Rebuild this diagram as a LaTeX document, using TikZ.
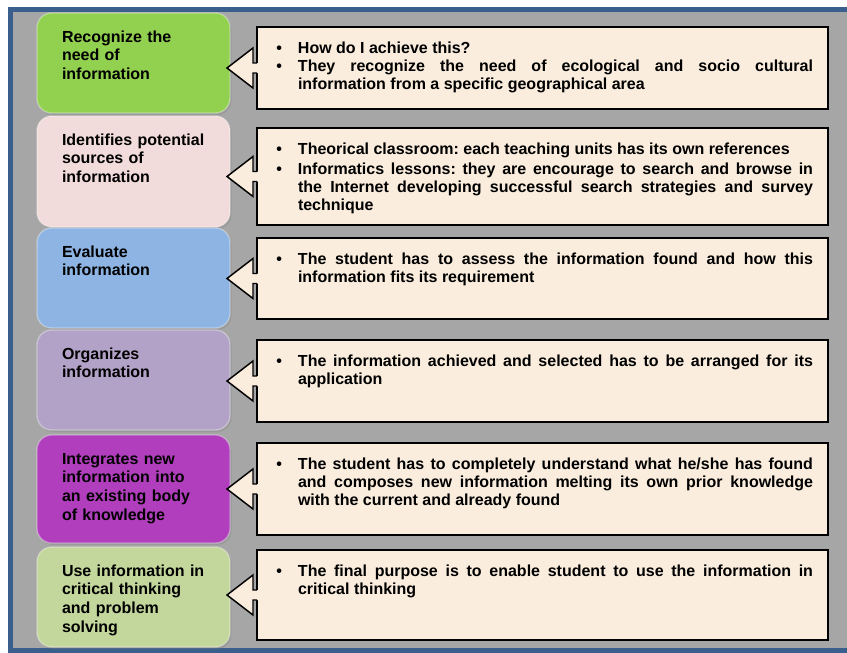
\documentclass[tikz,border=0pt]{standalone}
\usepackage{fontspec}
\setmainfont{Liberation Sans}
\usepackage{tikz}
\usetikzlibrary{calc, shadows}
\frenchspacing
\definecolor{grisFond}{RGB}{166, 166, 166}
\definecolor{bleuCadre}{RGB}{58, 95, 140}
\definecolor{creme}{RGB}{250, 237, 221}
\definecolor{vertEtape}{RGB}{146, 208, 80}
\definecolor{roseEtape}{RGB}{242, 220, 219}
\definecolor{bleuEtape}{RGB}{141, 180, 226}
\definecolor{mauveEtape}{RGB}{179, 162, 199}
\definecolor{violetEtape}{RGB}{177, 63, 189}
\definecolor{olivEtape}{RGB}{195, 214, 155}
% one bullet of a detail box
\newcommand\itm[1]{\leftskip=19.5pt\leavevmode\llap{\textbullet\hspace{12pt}}#1\par}
% block arrow from a detail box back to its stage
\newcommand\bigarrow[2]{%
  \path[fill=creme] let \p1=(#1.west), \p2=(#2.east) in
    (\x1+1pt,\y1+3.75pt) -- (\x1-3pt,\y1+3.75pt) -- (\x1-3pt,\y1+15pt)
    -- (\x2-2.25pt,\y1) -- (\x1-3pt,\y1-15pt) -- (\x1-3pt,\y1-3.75pt)
    -- (\x1+1pt,\y1-3.75pt) -- cycle;
  \draw[arrline] let \p1=(#1.west), \p2=(#2.east) in
    (\x1,\y1+3.75pt) -- (\x1-3pt,\y1+3.75pt) -- (\x1-3pt,\y1+15pt)
    -- (\x2-2.25pt,\y1) -- (\x1-3pt,\y1-15pt) -- (\x1-3pt,\y1-3.75pt)
    -- (\x1,\y1-3.75pt);}

\begin{document}
\begin{tikzpicture}[
  x=0.75pt, y=-0.75pt,
  stage/.style={rectangle, rounded corners=11pt, anchor=north west,
    fill=#1, draw=white, draw opacity=0.35, line width=1pt,
    text width=107.25pt, inner xsep=18.75pt, inner ysep=0pt, outer sep=0pt,
    text height=21.75pt, align=left,
    font=\bfseries\fontsize{12}{14}\selectfont,
    drop shadow={shadow xshift=1.2pt, shadow yshift=-1.5pt, opacity=0.3}},
  detail/.style={rectangle, anchor=north west, fill=creme, draw=black,
    line width=1.5pt, text width=405.75pt, inner xsep=11.25pt,
    inner ysep=0pt, outer sep=0pt, text height=19.5pt, align=justify,
    font=\bfseries\fontsize{12}{13.7}\selectfont},
  arrline/.style={draw=black, line width=1.1pt, line join=miter},
]
\path[use as bounding box, fill=white] (0,0) rectangle (847,653);
\draw[line width=3.75pt, draw=bleuCadre, fill=grisFond] (10.5,9.5) rectangle (880,650);

% stages
\node[stage=vertEtape,   text depth=53.25pt] (recog)  at (37,13)  {Recognize the\\need of\\information};
\node[stage=roseEtape,   text depth=61.5pt]  (source) at (37,116) {Identifies potential\\sources of\\information};
\node[stage=bleuEtape,   text depth=53.25pt] (evalu)  at (37,228) {Evaluate\\information};
\node[stage=mauveEtape,  text depth=53.25pt] (organ)  at (37,330) {Organizes\\information};
\node[stage=violetEtape, text depth=59.25pt] (integ)  at (37,435) {Integrates new\\information into\\an existing body\\of knowledge};
\node[stage=olivEtape,   text depth=53.25pt] (usage)  at (37,547) {Use information in\\critical thinking\\and problem\\solving};

% details
\node[detail, text depth=42pt] (recogD) at (257,27)
  {\itm{How do I achieve this?}
   \itm{They recognize the need of ecological and socio cultural\linebreak
   information from a specific geographical area}};
\node[detail, text depth=53.25pt] (sourceD) at (257,128)
  {\itm{Theorical classroom: each teaching units has its own references}
   \vspace{1.5pt}
   \itm{Informatics lessons: they are encourage to search and browse in\linebreak
   the Internet developing successful search strategies and survey\linebreak
   technique}};
\node[detail, text depth=41.25pt] (evaluD) at (257,238)
  {\itm{The student has to assess the information found and how this\linebreak
   information fits its requirement}};
\node[detail, text depth=42pt] (organD) at (257,340)
  {\itm{The information achieved and selected has to be arranged for its\linebreak
   application}};
\node[detail, text depth=49.5pt] (integD) at (257,443)
  {\itm{The student has to completely understand what he/she has found\linebreak
   and composes new information melting its own prior knowledge\linebreak
   with the current and already found}};
\node[detail, text depth=48pt] (usageD) at (257,550)
  {\itm{The final purpose is to enable student to use the information in\linebreak
   critical thinking}};

% arrows
\bigarrow{recogD}{recog}
\bigarrow{sourceD}{source}
\bigarrow{evaluD}{evalu}
\bigarrow{organD}{organ}
\bigarrow{integD}{integ}
\bigarrow{usageD}{usage}
\end{tikzpicture}
\end{document}
